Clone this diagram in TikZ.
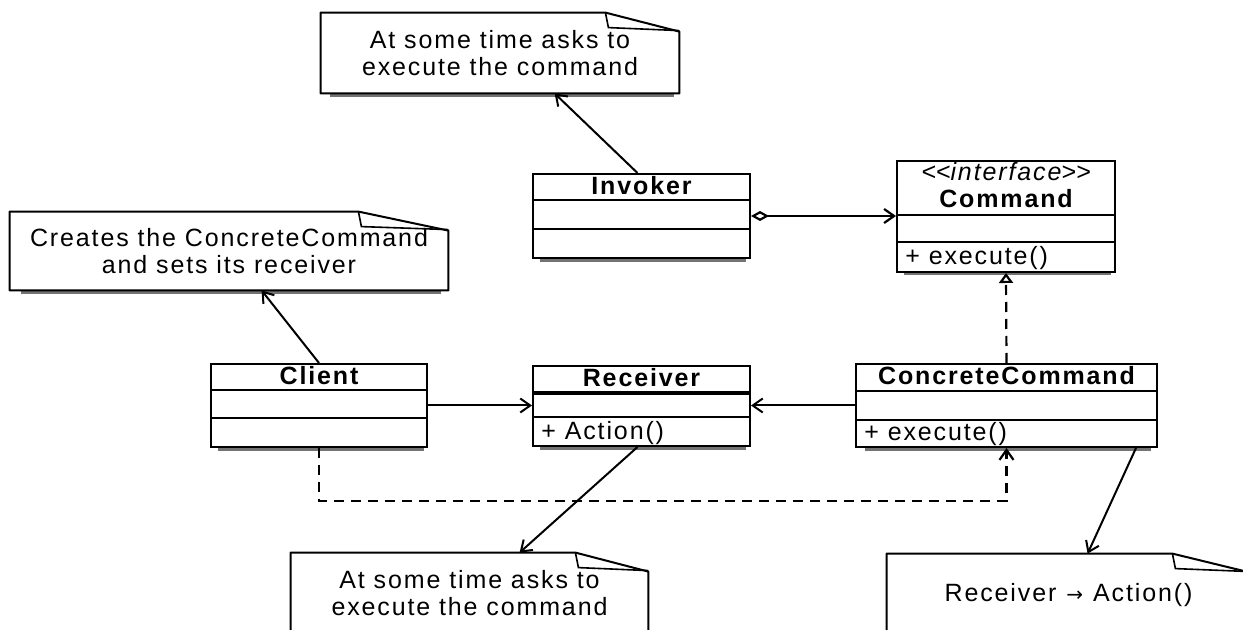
\documentclass[tikz,border=0pt]{standalone}
\usepackage{fontspec}
\setmainfont[LetterSpace=7.5]{Liberation Sans}
\newfontfamily\arrowfont{DejaVu Sans}
\usetikzlibrary{calc,arrows.meta,shadows}
\tikzset{
  cls/.style={draw, line width=1pt, fill=white, inner sep=0pt,
    drop shadow={shadow xshift=1pt, shadow yshift=-3pt, shadow scale=0.95, fill=black!55, opacity=1}},
  note/.style={fill=white, inner sep=0pt, align=center,
    drop shadow={shadow xshift=1pt, shadow yshift=-3pt, shadow scale=0.96, fill=black!55, opacity=1}},
  ttl/.style={font=\fontsize{12.5}{14}\selectfont\bfseries, inner sep=0pt},
  op/.style={anchor=west, inner sep=0pt},
  sep/.style={line width=1pt},
  assoc/.style={-{Straight Barb[length=5pt,width=7pt]}, line width=1pt},
  agg/.style={{Diamond[open,length=9pt,width=5pt]}-{Straight Barb[length=5pt,width=7pt]}, line width=1.1pt},
  real/.style={-{Triangle[open,length=5pt,width=7pt]}, dash pattern=on 5pt off 3.5pt, line width=1.1pt},
  dep/.style={-{Straight Barb[length=5pt,width=7pt]}, dash pattern=on 5pt off 3.5pt, line width=1.1pt}}
\newcommand\dogear[2]{%
  \draw[line width=1pt, line join=round] (#1.north west) -- ($(#1.north east)+(-#2,0)$)
    -- ($(#1.north east)+(0,19)$) -- (#1.south east) -- (#1.south west) -- cycle;
  \draw[line width=0.8pt] ($(#1.north east)+(-#2,0)$) -- ++(3,15) -- ($(#1.north east)+(0,18)$);}

\begin{document}
\begin{tikzpicture}[x=0.5pt, y=-0.5pt, font=\fontsize{12.5}{13.5}\selectfont]
\useasboundingbox (0,0) rectangle (1243,630);

% notes
\node[note, minimum width=179pt, minimum height=40pt] (askTop) at (500,53) {At some time asks to\\execute the command};
\dogear{askTop}{74}
\node[note, minimum width=219pt, minimum height=39pt] (createN) at (229,251) {Creates the ConcreteCommand\\and sets its receiver};
\dogear{createN}{90}
\node[note, minimum width=178.5pt, minimum height=40.5pt] (askBot) at (469.5,593.5) {At some time asks to\\execute the command};
\dogear{askBot}{73}
\node[note, minimum width=181.5pt, minimum height=41pt] (actN) at (1068.5,595) {Receiver\hspace{5pt}{\arrowfont\fontsize{10}{12}\selectfont\char"2192}\hspace{5pt}Action()};
\dogear{actN}{78}

% classes
\node[cls, minimum width=108.5pt, minimum height=42pt] (inv) at (641.5,216) {};
\node[ttl] (inv-t) at ($(inv.north)+(0,13)$) {Invoker};
\draw[sep] ($(inv.north west)+(0,27)$) -- ($(inv.north east)+(0,27)$);
\draw[sep] ($(inv.north west)+(0,56)$) -- ($(inv.north east)+(0,56)$);

\node[cls, minimum width=109pt, minimum height=55.5pt] (cmd) at (1006,216.5) {};
\node[inner sep=0pt, font=\fontsize{12.5}{13}\selectfont\itshape] (cmd-s) at ($(cmd.north)+(0,12)$) {\mbox{<}\mbox{<}interface\mbox{>}\mbox{>}};
\node[ttl] (cmd-t) at ($(cmd.north)+(0,39)$) {Command};
\draw[sep] ($(cmd.north west)+(0,55)$) -- ($(cmd.north east)+(0,55)$);
\draw[sep] ($(cmd.north west)+(0,82)$) -- ($(cmd.north east)+(0,82)$);
\node[op] (cmd-o) at ($(cmd.south west)+(9,-15)$) {+ execute()};

\node[cls, minimum width=108pt, minimum height=41.5pt] (cli) at (319,405.5) {};
\node[ttl] (cli-t) at ($(cli.north)+(0,13)$) {Client};
\draw[sep] ($(cli.north west)+(0,27)$) -- ($(cli.north east)+(0,27)$);
\draw[sep] ($(cli.north west)+(0,55)$) -- ($(cli.north east)+(0,55)$);

\node[cls, minimum width=108.5pt, minimum height=40pt] (rcv) at (641.5,406) {};
\node[ttl] (rcv-t) at ($(rcv.north)+(0,13)$) {Receiver};
\draw[line width=1.6pt] ($(rcv.north west)+(0,28)$) -- ($(rcv.north east)+(0,28)$);
\draw[sep] ($(rcv.north west)+(0,52)$) -- ($(rcv.north east)+(0,52)$);
\node[op] (rcv-o) at ($(rcv.south west)+(9,-14)$) {+ Action()};

\node[cls, minimum width=150.5pt, minimum height=41.5pt] (cc) at (1006.5,405.5) {};
\node[ttl] (cc-t) at ($(cc.north)+(0,13)$) {ConcreteCommand};
\draw[sep] ($(cc.north west)+(0,28)$) -- ($(cc.north east)+(0,28)$);
\draw[sep] ($(cc.north west)+(0,57)$) -- ($(cc.north east)+(0,57)$);
\node[op] (cc-o) at ($(cc.south west)+(9,-14)$) {+ execute()};

% connectors
\draw[agg] (inv.east) -- (inv.east -| cmd.west);
\draw[real] (cc.north) -- (cmd.south);
\draw[assoc] (cli.east) -- (cli.east -| rcv.west);
\draw[assoc] (cc.west) -- (cc.west -| rcv.east);
\draw[dep] (cli.south) -- ++(0,53) -| (cc.south);
\draw[assoc] ($(inv.north)+(-4,0)$) -- ($(askTop.south west)+(234,0)$);
\draw[assoc] (cli.north) -- ($(createN.south west)+(252,0)$);
\draw[assoc] ($(rcv.south)+(-4,0)$) -- ($(askBot.north west)+(229,0)$);
\draw[assoc] ($(cc.south east)+(-22,0)$) -- ($(actN.north west)+(201,0)$);
\end{tikzpicture}
\end{document}
